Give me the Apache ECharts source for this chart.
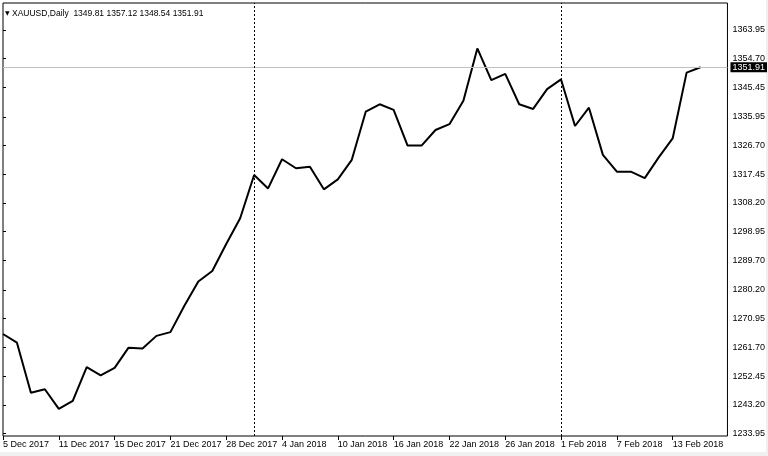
<!DOCTYPE html>
<html>
<head>
<meta charset="utf-8">
<script src="https://cdn.jsdelivr.net/npm/echarts@6/dist/echarts.min.js"></script>
<style>
html,body{margin:0;padding:0;background:#fff;}
#c{width:768px;height:456px;}
</style>
</head>
<body>
<div id="c"></div>
<script>
const dates = [
  '5 Dec 2017','6 Dec 2017','7 Dec 2017','8 Dec 2017','11 Dec 2017','12 Dec 2017','13 Dec 2017','14 Dec 2017','15 Dec 2017',
  '18 Dec 2017','19 Dec 2017','20 Dec 2017','21 Dec 2017','22 Dec 2017','26 Dec 2017','27 Dec 2017','28 Dec 2017','29 Dec 2017',
  '2 Jan 2018','3 Jan 2018','4 Jan 2018','5 Jan 2018','8 Jan 2018','9 Jan 2018','10 Jan 2018','11 Jan 2018','12 Jan 2018',
  '15 Jan 2018','16 Jan 2018','17 Jan 2018','18 Jan 2018','19 Jan 2018','22 Jan 2018','23 Jan 2018','24 Jan 2018','25 Jan 2018',
  '26 Jan 2018','29 Jan 2018','30 Jan 2018','31 Jan 2018',
  '1 Feb 2018','2 Feb 2018','5 Feb 2018','6 Feb 2018','7 Feb 2018','8 Feb 2018','9 Feb 2018','12 Feb 2018','13 Feb 2018',
  '14 Feb 2018','15 Feb 2018'
];
const closes = [
  1266.0,1263.2,1247.1,1248.2,1241.9,1244.5,1255.3,1252.7,1255.1,1261.6,
  1261.3,1265.4,1266.6,1275.1,1282.9,1286.3,1295.0,1303.3,1317.2,1312.9,
  1322.3,1319.4,1319.9,1312.6,1315.8,1322.1,1337.6,1340.0,1338.2,1326.7,
  1326.7,1331.7,1333.6,1341.1,1358.0,1347.8,1349.8,1340.0,1338.5,1344.9,
  1348.0,1333.0,1338.9,1323.7,1318.3,1318.3,1316.2,1322.9,1329.0,1350.2,1351.91
];
const priceTicks = [1363.95,1354.70,1345.45,1335.95,1326.70,1317.45,1308.20,1298.95,1289.70,1280.20,1270.95,1261.70,1252.45,1243.20,1233.95];
const dateTickIdx = [0,4,8,12,16,20,24,28,32,36,40,44,48];
const separatorIdx = [18,40];
const ohlc = [1349.81,1357.12,1348.54,1351.91];
const symbolName = 'XAUUSD,Daily';
const lastPrice = closes[closes.length-1];

const FONT = "'Liberation Sans',Arial,sans-serif";
const chart = echarts.init(document.getElementById('c'), null, {renderer:'canvas'});
const marks = [{
  yAxis: lastPrice,
  lineStyle:{color:'#c0c0c0', type:'solid', width:1},
  label:{show:true, position:'end', distance:3, formatter: lastPrice.toFixed(2),
         backgroundColor:'#000', color:'#fff', fontFamily:FONT, fontSize:9, padding:[1,2,0,2]}
}].concat(separatorIdx.map(i => ({
  xAxis: i,
  lineStyle:{color:'#000', type:[2,2], width:1},
  label:{show:false}
})));

chart.setOption({
  animation:false,
  backgroundColor:'#fff',
  title:{
    text:'{t|▼} ' + symbolName + '  ' + ohlc.map(v=>v.toFixed(2)).join(' '),
    left:0, top:4,
    textStyle:{fontFamily:FONT, fontSize:8.5, fontWeight:'normal', color:'#000',
      rich:{t:{fontSize:6, color:'#000', fontFamily:'DejaVu Sans'}}}
  },
  grid:{left:3, right:38, top:3, bottom:20, show:true, borderColor:'#000', borderWidth:1, backgroundColor:'#fff'},
  xAxis:{
    type:'value', min:0, max:727/14,
    splitLine:{show:false},
    axisLine:{show:false},
    axisTick:{show:true, length:4, customValues:dateTickIdx, lineStyle:{color:'#000'}},
    axisLabel:{show:true, customValues:dateTickIdx, formatter:v=>dates[Math.round(v)]||'',
      align:'left', margin:4, fontFamily:FONT, fontSize:9, color:'#000'}
  },
  yAxis:{
    type:'value', position:'right', min:1233.15, max:1372.62, scale:true,
    splitLine:{show:false},
    axisLine:{show:false},
    axisTick:{show:true, length:3, customValues:priceTicks, lineStyle:{color:'#000'}},
    axisLabel:{show:true, customValues:priceTicks, formatter:v=>v.toFixed(2),
      margin:5, fontFamily:FONT, fontSize:9, color:'#000'}
  },
  graphic:[
    {type:'rect', shape:{x:0, y:452, width:768, height:4}, style:{fill:'#f0f0f0'}, silent:true},
    {type:'rect', shape:{x:766, y:0, width:2, height:456}, style:{fill:'#f0f0f0'}, silent:true}
  ],
  series:[{
    type:'line',
    data: closes.map((v,i)=>[i,v]),
    symbol:'none',
    lineStyle:{color:'#000', width:2},
    markLine:{silent:true, symbol:['none','none'], data:marks}
  }]
});
</script>
</body>
</html>
